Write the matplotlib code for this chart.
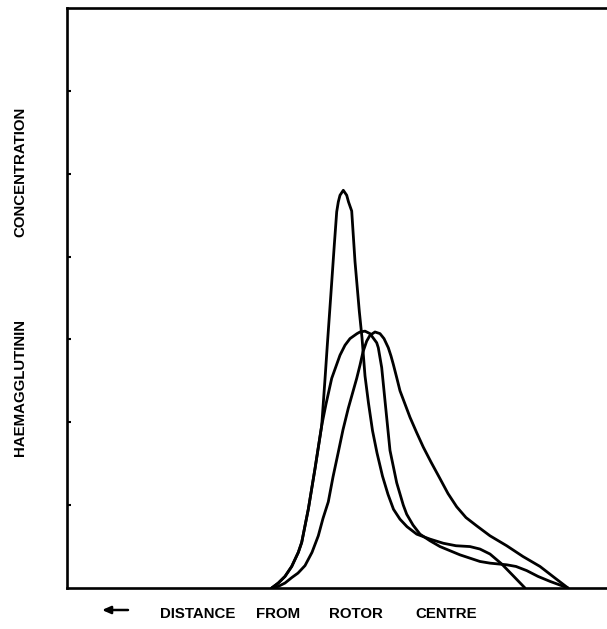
import matplotlib
matplotlib.use("Agg")
import matplotlib.pyplot as plt

# ---- data (distance units arbitrary, concentration arbitrary) ----
curve_a_x = [20.47, 21.13, 21.8, 22.47, 23.13, 23.47, 23.8, 24.13, 24.8, 25.47, 25.8, 26.03,
             26.38, 26.73, 26.97, 27.13, 27.3, 27.63, 27.97, 28.15, 28.47, 28.8, 29.23,
             29.5, 29.8, 30.15, 30.55, 31.0, 31.55, 32.1, 32.65, 33.3, 34.0, 34.97, 36.3,
             37.63, 38.9, 40.3, 41.3, 42.3, 43.47, 44.6, 45.8]
curve_a_v = [0.0, 0.06, 0.14, 0.26, 0.43, 0.55, 0.75, 0.95, 1.44, 1.96, 2.52, 2.93,
             3.53, 4.14, 4.54, 4.66, 4.74, 4.80, 4.74, 4.66, 4.55, 3.94, 3.34,
             3.02, 2.56, 2.23, 1.90, 1.63, 1.35, 1.13, 0.95, 0.83, 0.74, 0.65, 0.59,
             0.54, 0.51, 0.50, 0.47, 0.41, 0.29, 0.15, 0.0]

curve_b_x = [20.47, 21.13, 21.8, 22.47, 23.13, 23.47, 23.8, 24.13, 24.8, 25.47, 25.9, 26.47,
             27.3, 27.8, 28.3, 29.0, 29.3, 29.8, 30.3, 30.97, 31.13, 31.47, 31.8, 32.05,
             32.3, 32.97, 33.63, 33.97, 34.6, 35.3, 36.3, 37.3, 39.3, 40.3, 41.3, 42.3,
             43.97, 44.9, 45.97, 47.1, 48.3, 50.1]
curve_b_v = [0.0, 0.06, 0.14, 0.26, 0.43, 0.55, 0.75, 0.95, 1.44, 1.96, 2.22, 2.53,
             2.81, 2.93, 3.01, 3.07, 3.09, 3.10, 3.07, 2.96, 2.90, 2.66, 2.26, 1.96,
             1.66, 1.27, 1.00, 0.89, 0.76, 0.65, 0.57, 0.50, 0.40, 0.36, 0.32, 0.30,
             0.28, 0.26, 0.21, 0.14, 0.08, 0.0]

curve_c_x = [20.47, 21.13, 21.8, 22.47, 23.1, 23.8, 24.5, 25.13, 25.6, 26.13, 26.6, 27.13,
             27.6, 28.13, 28.55, 28.97, 29.3, 29.6, 29.97, 30.3, 30.8, 31.3, 31.7, 32.13,
             32.4, 32.63, 32.97, 33.3, 33.8, 34.3, 34.95, 35.63, 36.4, 37.3, 38.1, 38.97,
             39.9, 40.97, 42.3, 43.97, 45.6, 47.3, 48.8, 50.1]
curve_c_v = [0.0, 0.02, 0.06, 0.125, 0.18, 0.27, 0.43, 0.63, 0.84, 1.04, 1.34, 1.64,
             1.91, 2.17, 2.35, 2.53, 2.69, 2.85, 2.98, 3.05, 3.09, 3.07, 3.01, 2.90,
             2.80, 2.70, 2.54, 2.38, 2.22, 2.06, 1.88, 1.70, 1.52, 1.32, 1.14, 0.98,
             0.85, 0.75, 0.63, 0.51, 0.38, 0.26, 0.12, 0.0]

y_ticks = [1, 2, 3, 4, 5, 6]
y_label_words = ["HAEMAGGLUTININ", "CONCENTRATION"]
x_label_words = ["DISTANCE", "FROM", "ROTOR", "CENTRE"]

W, H = 607, 629
fig = plt.figure(figsize=(W / 100, H / 100), dpi=100)
ax = fig.add_axes([67 / W, 1 - 588 / H, (W - 67) / W, 580 / H])

for xs, vs in [(curve_a_x, curve_a_v), (curve_b_x, curve_b_v), (curve_c_x, curve_c_v)]:
    ax.plot(xs, vs, color="black", lw=2.0, solid_joinstyle="round", solid_capstyle="round")

ax.set_xlim(0, 54)
ax.set_ylim(0, 7)
ax.set_xticks([])
ax.set_yticks(y_ticks)
ax.set_yticklabels([])
ax.tick_params(axis="y", direction="in", length=3, width=1.5)
for s in ["left", "top", "bottom"]:
    ax.spines[s].set_linewidth(1.9)
ax.spines["right"].set_visible(False)

font = dict(family="Liberation Sans", weight="bold", fontsize=10.8, color="black")
# y label words
for word, yc in zip(y_label_words, [387.5, 172]):
    fig.text(20 / W, 1 - yc / H, word, rotation=90, ha="center", va="center", **font)
# x label words
for word, xc in zip(x_label_words, [198, 278.5, 356, 446.5]):
    fig.text(xc / W, 1 - 614 / H, word, ha="center", va="center", **font)
ax.annotate("", xy=(102, H - 610), xytext=(128, H - 610),
            xycoords="figure pixels", textcoords="figure pixels", annotation_clip=False,
            arrowprops=dict(arrowstyle="-|>,head_length=0.5,head_width=0.22",
                            color="black", lw=1.8, shrinkA=0, shrinkB=0))

fig.savefig("out.png", dpi=100)
